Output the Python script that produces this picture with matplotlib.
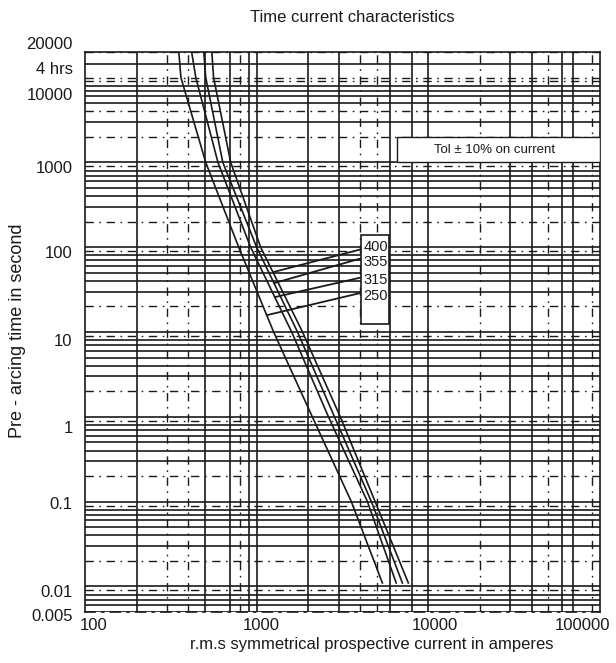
import matplotlib
matplotlib.use("Agg")
import matplotlib.pyplot as plt
import numpy as np
from matplotlib.patches import Rectangle
from matplotlib.transforms import ScaledTranslation

# fuse ratings and pre-arcing curves (time in s, current in A)
ratings = ["250", "315", "355", "400"]
curve_time = [20000, 10000, 1000, 100, 10, 1, 0.1, 0.011]
curve_current = {
    "250": [352, 362, 505, 786, 1256, 2110, 3560, 5400],
    "315": [418, 442, 595, 922, 1600, 2620, 4420, 6500],
    "355": [492, 505, 635, 1000, 1730, 2840, 4660, 7060],
    "400": [548, 561, 706, 1055, 1850, 3070, 4900, 7650],
}
# where each leader line leaves its curve (s) and meets the label box (s)
leader_from_time = {"250": 15.8, "315": 25.8, "355": 37.7, "400": 50.8}
leader_to_time = {"250": 29, "315": 44, "355": 74, "400": 94.7}
label_time = {"250": 26.8, "315": 40.6, "355": 66.5, "400": 100}

xticks = [100, 1000, 10000, 100000]
xtick_labels = ["100", "1000", "10000", "100000"]
yticks = [20000, 14400, 10000, 1000, 100, 10, 1, 0.1, 0.01, 0.005]
ytick_labels = ["20000", "4 hrs", "10000", "1000", "100", "10", "1", "0.1", "0.01", "0.005"]

plt.rcParams["font.family"] = ["Liberation Sans", "DejaVu Sans"]

fig = plt.figure(figsize=(6.16, 6.63), dpi=100)
ax = fig.add_axes([0.138, 0.0769, 0.836, 0.8446])
ax.set_xscale("log")
ax.set_yscale("log")
ax.set_xlim(100, 100000)
ax.set_ylim(0.005, 20000)

ink = "#1a1a1a"
dashdot = (0, (6, 4, 1.2, 4))

# horizontal grid: every 1..9 multiple per decade, a few drawn dash-dot like the scan
for k in range(-3, 5):
    for m in range(1, 10):
        v = m * 10.0 ** k
        if v < 0.005 or v > 20000:
            continue
        if m in (2, 9) or v in (10000, 4000):
            ax.axhline(v, color=ink, lw=1.0, ls=dashdot, zorder=1)
        else:
            ax.axhline(v, color=ink, lw=1.2, zorder=1)
ax.axhline(14400, color=ink, lw=1.2, zorder=1)

# vertical grid
v_solid = [200, 500, 700, 900, 1000, 2000, 3000, 6000, 8000, 10000, 30000, 40000, 60000, 70000]
v_dash = [300, 400, 800, 4000, 5000, 20000, 50000, 90000]
for v in v_solid:
    ax.axvline(v, color=ink, lw=1.2, zorder=1)
for v in v_dash:
    ax.axvline(v, color=ink, lw=1.0, ls=dashdot, zorder=1)

# fuse curves
logt = np.log10(curve_time)
for r in ratings:
    ax.plot(curve_current[r], curve_time, color=ink, lw=1.2, zorder=3)

# label box with leader lines
box_x0, box_x1 = 4070, 5930
box_y0, box_y1 = 12.4, 138
ax.add_patch(Rectangle((box_x0, box_y0), box_x1 - box_x0, box_y1 - box_y0,
                       facecolor="white", edgecolor=ink, lw=1.2, zorder=4))
for r in ratings:
    t0 = leader_from_time[r]
    # current on the curve at that time (log-log reading of the curve)
    i0 = 10 ** np.interp(np.log10(t0), logt[::-1], np.log10(curve_current[r])[::-1])
    ax.plot([i0, box_x0], [t0, leader_to_time[r]], color=ink, lw=1.3, zorder=3)
    ax.text(box_x0 * 1.03, label_time[r], r, fontsize=10.5, ha="left", va="center",
            color=ink, zorder=5)

# tolerance box
ax.add_patch(Rectangle((6610, 1000), 100000 - 6610, 1970 - 1000,
                       facecolor="white", edgecolor=ink, lw=1.0, zorder=4))
ax.text(24200, 1390, "Tol \u00b1 10% on current", fontsize=9.5, ha="center", va="center",
        color=ink, zorder=5)

# ticks
ax.set_xticks(xticks)
ax.set_xticklabels(xtick_labels)
ax.set_yticks(yticks)
ax.set_yticklabels(ytick_labels)
ax.minorticks_off()
ax.tick_params(length=0, labelsize=12, colors=ink)
ax.tick_params(axis="y", pad=9)
ax.tick_params(axis="x", pad=4)

# nudge the tick labels to where the scan has them (pixels)
x_nudge = [9, 5, 7, -17]
y_nudge = [-9, 4, 16, 5, 5, 8, 10, 1, 5, 3]
for lab, dx in zip(ax.get_xticklabels(), x_nudge):
    lab.set_transform(lab.get_transform() + ScaledTranslation(dx / 100, 0, fig.dpi_scale_trans))
for lab, dy in zip(ax.get_yticklabels(), y_nudge):
    lab.set_transform(lab.get_transform() + ScaledTranslation(0, -dy / 100, fig.dpi_scale_trans))

for s in ax.spines.values():
    s.set_color(ink)
    s.set_linewidth(1.2)
ax.spines["bottom"].set_linestyle(dashdot)

fig.text(352 / 616, 1 - 17 / 663, "Time current characteristics", fontsize=12,
         ha="center", va="center", color=ink)
fig.text(372 / 616, 1 - 645 / 663, "r.m.s symmetrical prospective current in amperes",
         fontsize=12, ha="center", va="center", color=ink)
fig.text(18 / 616, 1 - 331 / 663, "Pre - arcing time in second", fontsize=13,
         rotation=90, ha="center", va="center", color=ink)

fig.savefig("out.png", dpi=100)
